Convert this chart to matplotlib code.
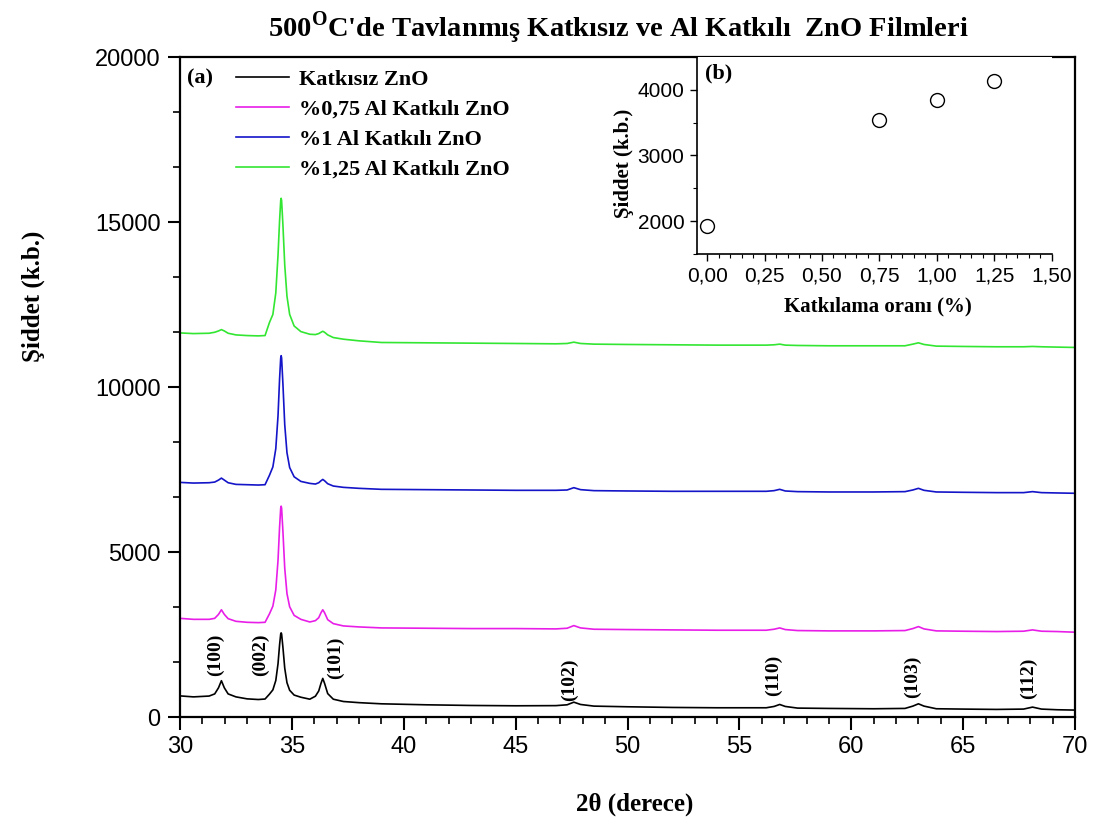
import matplotlib
matplotlib.use("Agg")
import matplotlib.pyplot as plt
from matplotlib.ticker import MultipleLocator, AutoMinorLocator, FuncFormatter

plt.rcParams['mathtext.fontset'] = 'custom'
plt.rcParams['mathtext.rm'] = 'Liberation Serif:bold'
plt.rcParams['mathtext.bf'] = 'Liberation Serif:bold'

SERIF = 'Liberation Serif'
SANS = 'Liberation Sans'

# 2theta grid (degrees), denser around the peaks
two_theta = [30.0, 30.6, 31.3, 31.55, 31.72, 31.85, 31.98, 32.15, 32.5, 33.0, 33.5, 33.8,
             34.0, 34.15, 34.28, 34.38, 34.45, 34.5, 34.52, 34.54, 34.6, 34.68, 34.78,
             34.9, 35.1, 35.4, 35.8,
             36.05, 36.2, 36.3, 36.38, 36.46, 36.6, 36.85, 37.3, 38.0,
             39.0, 41.0, 43.0, 45.0, 46.8, 47.3, 47.6, 47.9, 48.5, 50.0, 52.0, 54.0,
             56.2, 56.55, 56.8, 57.05, 57.6, 59.0, 61.0, 62.4, 62.75, 63.0, 63.25,
             63.8, 65.0, 66.5, 67.7, 68.1, 68.5, 69.2, 70.0]

undoped = [640, 610, 635, 700, 885, 1100, 885, 700, 610, 550, 530, 545,
           695, 823, 1105, 1615, 2190, 2515, 2550, 2515, 2105, 1480, 1040,
           810, 665, 600, 540,
           630, 790, 1020, 1170, 1020, 710, 540, 470, 435,
           400, 370, 350, 340, 345, 370, 450, 380, 330, 310, 290, 280,
           280, 320, 380, 320, 270, 260, 250, 260, 330, 400, 330,
           250, 240, 230, 240, 300, 240, 220, 210]

al_075 = [2990, 2960, 2960, 2990, 3110, 3250, 3110, 2980, 2900, 2870, 2860, 2870,
          3130, 3360, 3850, 4750, 5760, 6330, 6390, 6330, 5610, 4510, 3740,
          3340, 3080, 2960, 2880,
          2920, 3010, 3160, 3250, 3160, 2950, 2830, 2760, 2730,
          2700, 2690, 2680, 2680, 2670, 2690, 2770, 2700, 2660, 2650, 2640, 2630,
          2630, 2660, 2700, 2650, 2620, 2610, 2610, 2620, 2680, 2740, 2670,
          2610, 2600, 2590, 2600, 2640, 2600, 2590, 2570]

al_1 = [7110, 7090, 7100, 7120, 7180, 7240, 7180, 7100, 7050, 7040, 7030, 7040,
        7330, 7580, 8130, 9130, 10250, 10880, 10950, 10880, 10080, 8860, 8010,
        7560, 7280, 7140, 7080,
        7060, 7100, 7160, 7200, 7160, 7070, 7000, 6960, 6930,
        6900, 6890, 6880, 6870, 6870, 6880, 6950, 6890, 6860, 6850, 6840, 6840,
        6840, 6860, 6900, 6850, 6830, 6820, 6820, 6830, 6880, 6930, 6870,
        6820, 6810, 6800, 6800, 6830, 6800, 6790, 6780]

al_125 = [11640, 11620, 11630, 11660, 11700, 11740, 11700, 11630, 11580, 11560, 11550, 11560,
          11960, 12200, 12850, 14000, 15050, 15650, 15720, 15650, 14900, 13700, 12750,
          12200, 11850, 11680, 11600,
          11590, 11620, 11660, 11690, 11660, 11580, 11500, 11450, 11400,
          11350, 11340, 11330, 11320, 11310, 11320, 11360, 11320, 11300, 11290, 11280, 11270,
          11270, 11280, 11300, 11270, 11260, 11250, 11250, 11250, 11300, 11340, 11290,
          11240, 11230, 11220, 11220, 11230, 11220, 11210, 11200]

series_labels = ['Katkısız ZnO', '%0,75 Al Katkılı ZnO',
                 '%1 Al Katkılı ZnO', '%1,25 Al Katkılı ZnO']
series_colors = ['#000000', '#e81ee8', '#1414c8', '#32e632']

# Miller indices and where each label sits
hkl_labels = ['(100)', '(002)', '(101)', '(102)', '(110)', '(103)', '(112)']
hkl_pos = [31.6, 33.6, 36.95, 47.4, 56.5, 62.75, 67.9]
hkl_y = [1880, 1880, 1800, 1120, 1270, 1210, 1180]

# inset (b): doping ratio vs intensity
doping = [0.0, 0.75, 1.0, 1.25]
peak_int = [1930, 3540, 3850, 4130]

fig = plt.figure(figsize=(10.99, 8.27), dpi=100)
ax = fig.add_axes([0.1638, 0.133, 0.8144, 0.798])

for y, lab, c in zip([undoped, al_075, al_1, al_125], series_labels, series_colors):
    ax.plot(two_theta, y, color=c, lw=1.2, label=lab)

ax.set_xlim(30, 70)
ax.set_ylim(0, 20000)
ax.xaxis.set_major_locator(MultipleLocator(5))
ax.xaxis.set_minor_locator(AutoMinorLocator(5))
ax.yaxis.set_major_locator(MultipleLocator(5000))
ax.yaxis.set_minor_locator(AutoMinorLocator(3))
ax.tick_params(which='major', direction='out', length=9, width=1.5, pad=5,
               labelsize=17)
ax.tick_params(which='minor', direction='out', length=5, width=1.2)
for t in ax.get_xticklabels() + ax.get_yticklabels():
    t.set_fontfamily(SANS)
for s in ax.spines.values():
    s.set_linewidth(1.6)

ax.set_ylabel('Şiddet (k.b.)', fontfamily=SERIF, fontweight='bold', fontsize=18)
ax.yaxis.set_label_coords(-0.151, 0.638)
ax.set_xlabel('2θ (derece)', fontfamily=SERIF, fontweight='bold', fontsize=18)
ax.xaxis.set_label_coords(0.508, -0.114)

for lab, xp, yp in zip(hkl_labels, hkl_pos, hkl_y):
    ax.text(xp, yp, lab, rotation=90, ha='center', va='center',
            fontfamily=SERIF, fontweight='bold', fontsize=14)

ax.text(0.008, 0.968, '(a)', transform=ax.transAxes, ha='left', va='center',
        fontfamily=SERIF, fontweight='bold', fontsize=16)
leg = ax.legend(loc='upper left', bbox_to_anchor=(0.062, 0.981), frameon=False,
                prop={'family': SERIF, 'weight': 'bold', 'size': 16},
                handlelength=2.4, handletextpad=0.45, labelspacing=0.42,
                borderpad=0, borderaxespad=0)

fig.text(0.5623, 0.966, "500$^{\\mathrm{O}}$C'de Tavlanmış Katkısız ve Al Katkılı  ZnO Filmleri",
         ha='center', va='center', fontfamily=SERIF, fontweight='bold', fontsize=20.5)

# inset
axin = fig.add_axes([0.634, 0.693, 0.323, 0.238])
axin.plot(doping, peak_int, 'o', ms=10, mfc='white', mec='black', mew=1.0)
axin.set_xlim(-0.045, 1.5)
axin.set_ylim(1500, 4500)
axin.spines['top'].set_visible(False)
axin.spines['right'].set_visible(False)
for s in ['left', 'bottom']:
    axin.spines[s].set_linewidth(1.2)
axin.xaxis.set_major_locator(MultipleLocator(0.25))
axin.xaxis.set_minor_locator(AutoMinorLocator(5))
axin.yaxis.set_major_locator(MultipleLocator(1000))
axin.yaxis.set_minor_locator(AutoMinorLocator(2))
axin.xaxis.set_major_formatter(FuncFormatter(lambda v, p: f'{v:.2f}'.replace('.', ',')))
axin.tick_params(which='major', direction='out', length=5, width=1.0, pad=4,
                 labelsize=15)
axin.tick_params(which='minor', direction='out', length=3, width=0.8)
for t in axin.get_xticklabels() + axin.get_yticklabels():
    t.set_fontfamily(SANS)
axin.set_ylabel('Şiddet (k.b.)', fontfamily=SERIF, fontweight='bold', fontsize=15)
axin.yaxis.set_label_coords(-0.177, 0.462)
axin.set_xlabel('Katkılama oranı (%)', fontfamily=SERIF, fontweight='bold', fontsize=15)
axin.xaxis.set_label_coords(0.51, -0.218)
axin.text(0.023, 0.919, '(b)', transform=axin.transAxes, ha='left', va='center',
          fontfamily=SERIF, fontweight='bold', fontsize=16)

fig.savefig('out.png', dpi=100)
